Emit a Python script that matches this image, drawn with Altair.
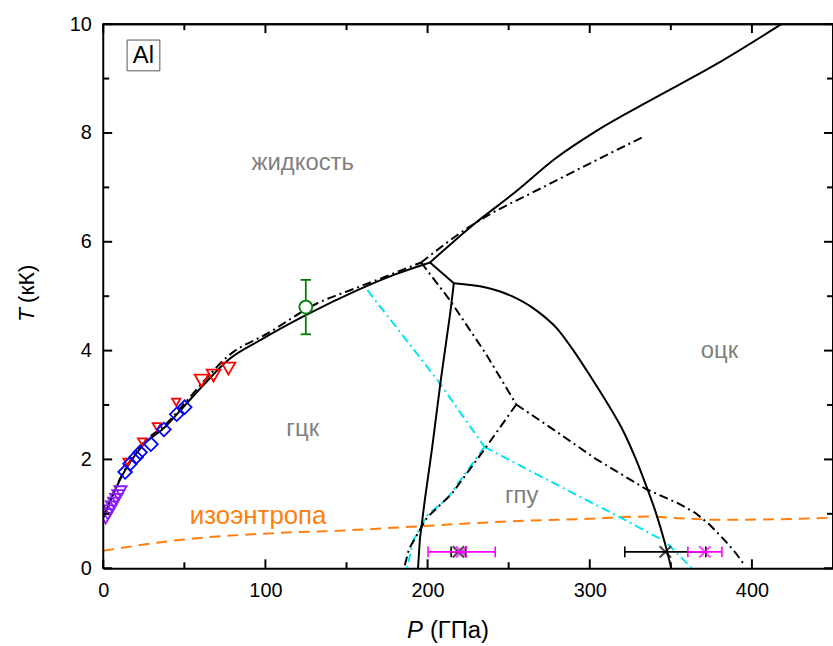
import altair as alt
import pandas as pd

W = 735            # plot width in px (0..450 GPa); the right edge runs past the window like the reference
H = 558            # group height in px; T = 10 kK sits 10 px below the group top
PMAX, TMAX = 450, 10
TTOP = 10.1825     # scale top so that 1 kK = 54.8 px
FONT = "Liberation Sans"

# ---------------- data ----------------
# solid black phase boundaries (model 1)
melt_fcc_P = [0, 11.6, 23.9, 38.6, 50.8, 63.1, 77.2, 97.4, 124.9, 156.8, 180, 201.5]
melt_fcc_T = [0.93, 1.70, 2.24, 2.61, 3.01, 3.41, 3.83, 4.20, 4.65, 5.11, 5.40, 5.62]
melt_bcc_P = [201.5, 226, 254.7, 279.2, 303.7, 336.2, 377.2, 418.2]
melt_bcc_T = [5.62, 6.26, 6.93, 7.54, 8.03, 8.58, 9.25, 10.0]
trip_P = [201.5, 216.2]
trip_T = [5.62, 5.24]
fcc_hcp_P = [216.2, 214.0, 208.2, 202.7, 198.4, 195.3, 194.1]
fcc_hcp_T = [5.24, 4.70, 3.47, 2.19, 1.28, 0.55, 0.0]
hcp_bcc_P = [216.2, 236.0, 252.0, 267.0, 280.0, 290.0, 301.0, 311.5, 321.0, 328.5, 335.0, 341.0, 346.0, 350.3]
hcp_bcc_T = [5.24, 5.16, 5.00, 4.74, 4.40, 4.00, 3.50, 3.00, 2.50, 2.00, 1.50, 1.00, 0.50, 0.0]

# black dash-dot boundaries (model 2)
dd_melt_P = [0, 12, 24, 39, 51, 63, 77, 101.6, 132, 155, 180, 196]
dd_melt_T = [0.95, 1.74, 2.28, 2.66, 3.06, 3.47, 3.90, 4.32, 4.87, 5.14, 5.43, 5.62]
dd_liq_P = [196, 226, 275, 332.5]
dd_liq_T = [5.62, 6.28, 7.06, 7.92]
dd_fb_P = [196, 213.7, 236.4, 254.7]
dd_fb_T = [5.62, 4.93, 3.92, 3.01]
dd_hb_P = [254.7, 280, 303.7, 334.4, 354, 365, 374, 383, 390, 395.6]
dd_hb_T = [3.01, 2.50, 2.01, 1.46, 1.20, 1.02, 0.80, 0.52, 0.28, 0.05]
dd_fh_P = [254.7, 236.4, 215, 199.6, 188.6, 185.5]
dd_fh_T = [3.01, 2.24, 1.37, 0.93, 0.36, 0.0]

# cyan dash-dot boundaries (model 3)
cy_a_P = [162.9, 205.8, 235.1]
cy_a_T = [5.11, 3.47, 2.23]
cy_b_P = [235.1, 267.0, 317.8, 346.6, 363.0]
cy_b_T = [2.23, 1.73, 0.95, 0.49, 0.0]
cy_c_P = [235.1, 212.0, 199.6, 191.0, 187.4]
cy_c_T = [2.23, 1.28, 0.97, 0.50, 0.0]

# isentrope (orange dashed)
isen_P = [0, 50, 102, 153, 194, 250, 300, 335, 355, 380, 414, 450]
isen_T = [0.32, 0.53, 0.64, 0.70, 0.77, 0.86, 0.91, 0.95, 0.92, 0.89, 0.90, 0.93]

# experimental points
purple_P = [1.5, 2.8, 4.1, 5.4, 6.7, 8.0, 9.3, 10.6]
purple_T = [0.92, 0.99, 1.06, 1.13, 1.20, 1.27, 1.34, 1.41]
blue_P = [13.5, 16.5, 20.2, 22.7, 29.4, 37.4, 45.3, 50.2]
blue_T = [1.77, 1.92, 2.04, 2.13, 2.28, 2.55, 2.83, 2.96]
red_big_P = [60.6, 68.0, 77.2]
red_big_T = [3.45, 3.54, 3.67]
red_small_P = [15.0, 24.0, 33.0, 45.0]
red_small_T = [1.95, 2.32, 2.60, 3.05]
green_P = [124.9]
green_T = [4.8]
green_err = [0.5]
black_x_P = [219.0, 346.6]
black_x_T = [0.3, 0.3]
black_x_err = [4.5, 25.0]
mag_x_P = [221.0, 371.0]
mag_x_T = [0.3, 0.3]
mag_x_err = [20.7, 10.5]

# axis ticks
x_major = [0, 100, 200, 300, 400]
x_minor = [50, 150, 250, 350, 450]
y_major = [0, 2, 4, 6, 8, 10]
y_minor = [1, 3, 5, 7, 9]

# region labels
lab_text = ["жидкость", "гцк", "гпу", "оцк"]
lab_P = [123, 123, 258, 380]
lab_T = [7.45, 2.55, 1.33, 4.0]

# ---------------- helpers ----------------
xs = alt.Scale(domain=[0, PMAX], nice=False, zero=False)
ys = alt.Scale(domain=[0, TTOP], nice=False, zero=False)
xax = alt.Axis(values=x_major, tickSize=0, labelFontSize=20, labelFont=FONT, labelColor="black",
               domainColor="black", domainWidth=2, grid=False, labelPadding=12, title=None,
               labelFlush=False)
yax = alt.Axis(values=y_major, tickSize=0, labelFontSize=20, labelFont=FONT, labelColor="black",
               domain=False, grid=False, labelPadding=12, title=None, labelFlush=False)
X = alt.X("P:Q", scale=xs, axis=xax)
Y = alt.Y("T:Q", scale=ys, axis=yax)
YTOP = H - TMAX * H / TTOP   # pixel row of T = 10 inside the group


def segs(pairs):
    frames = []
    for k, (p, t) in enumerate(pairs):
        frames.append(pd.DataFrame({"P": p, "T": t, "seg": k, "i": range(len(p))}))
    return pd.concat(frames, ignore_index=True)


def lines(pairs, color, dash=None, width=2, interp="linear", clip=True):
    kw = dict(color=color, strokeWidth=width, clip=clip, interpolate=interp)
    if dash:
        kw["strokeDash"] = dash
    return alt.Chart(segs(pairs)).mark_line(**kw).encode(
        x=X, y=Y, detail="seg:N", order="i:Q")


DD = [9, 4, 2, 4]
solid_smooth = lines([(melt_fcc_P, melt_fcc_T), (melt_bcc_P, melt_bcc_T), (hcp_bcc_P, hcp_bcc_T)],
                     "black", interp="monotone")
solid_lin = lines([(trip_P, trip_T), (fcc_hcp_P, fcc_hcp_T)], "black")
dashdot_smooth = lines([(dd_melt_P, dd_melt_T), (dd_liq_P, dd_liq_T)],
                       "black", DD, interp="monotone")
dashdot_lin = lines([(dd_fb_P, dd_fb_T), (dd_hb_P, dd_hb_T), (dd_fh_P, dd_fh_T)], "black", DD)
cyan = lines([(cy_a_P, cy_a_T), (cy_b_P, cy_b_T), (cy_c_P, cy_c_T)], "#00e5ee", DD)
isen = lines([(isen_P, isen_T)], "#ff7f0e", [11, 7], interp="monotone")

# top frame as a plain line through the scales (P = 0..450 at T = 10)
top_line = lines([([0, PMAX], [TMAX, TMAX])], "black", width=2, clip=False)


def pts(P, T, shape, color, size, sw=1.8):
    return alt.Chart(pd.DataFrame({"P": P, "T": T})).mark_point(
        shape=shape, color=color, size=size, strokeWidth=sw, filled=False, clip=True, opacity=1
    ).encode(x=X, y=Y)


purple = pts(purple_P, purple_T, "triangle-down", "#8c1aff", 150, 1.8)
red_small = pts(red_small_P, red_small_T, "triangle-down", "#ff0000", 70, 1.8)
blue = pts(blue_P, blue_T, "diamond", "#0000ff", 190, 1.8)
red_big = pts(red_big_P, red_big_T, "triangle-down", "#ff0000", 190, 1.8)

XSHAPE = "M-1,-1L1,1M-1,1L1,-1"


def xerr(P, T, err, color, cap=0.1):
    df = pd.DataFrame({"P": P, "T": T, "e": err})
    df["lo"] = df["P"] - df["e"]
    df["hi"] = df["P"] + df["e"]
    df["t0"] = df["T"] - cap
    df["t1"] = df["T"] + cap
    base = alt.Chart(df)
    bar = base.mark_rule(color=color, strokeWidth=1.6).encode(
        x=alt.X("lo:Q", scale=xs, axis=xax), x2="hi:Q", y=Y)
    c1 = base.mark_rule(color=color, strokeWidth=1.6).encode(
        x=alt.X("lo:Q", scale=xs, axis=xax), y=alt.Y("t0:Q", scale=ys, axis=yax), y2="t1:Q")
    c2 = base.mark_rule(color=color, strokeWidth=1.6).encode(
        x=alt.X("hi:Q", scale=xs, axis=xax), y=alt.Y("t0:Q", scale=ys, axis=yax), y2="t1:Q")
    mk = base.mark_point(shape=XSHAPE, color=color, size=130, strokeWidth=2.2, filled=False).encode(
        x=X, y=Y)
    return bar + c1 + c2 + mk


blackx = xerr(black_x_P, black_x_T, black_x_err, "black")
magx = xerr(mag_x_P, mag_x_T, mag_x_err, "#ff00ff")

gdf = pd.DataFrame({"P": green_P, "T": green_T, "e": green_err})
gdf["lo"] = gdf["T"] - gdf["e"]
gdf["hi"] = gdf["T"] + gdf["e"]
gdf["p0"] = gdf["P"] - 3.2
gdf["p1"] = gdf["P"] + 3.2
gb = alt.Chart(gdf)
green = (
    gb.mark_rule(color="#008000", strokeWidth=1.8).encode(x=X, y=alt.Y("lo:Q", scale=ys, axis=yax), y2="hi:Q")
    + gb.mark_rule(color="#008000", strokeWidth=1.8).encode(x=alt.X("p0:Q", scale=xs, axis=xax), x2="p1:Q",
                                                            y=alt.Y("lo:Q", scale=ys, axis=yax))
    + gb.mark_rule(color="#008000", strokeWidth=1.8).encode(x=alt.X("p0:Q", scale=xs, axis=xax), x2="p1:Q",
                                                            y=alt.Y("hi:Q", scale=ys, axis=yax))
    + gb.mark_point(shape="circle", color="#008000", size=170, strokeWidth=1.8, filled=True,
                    fill="white", stroke="#008000", opacity=1).encode(x=X, y=Y)
)

# frame (left, top and right) and inward ticks
ann = pd.DataFrame({"a": [0]})
R = dict(color="black", strokeWidth=2)
frame = (
    alt.Chart(ann).mark_rule(**R).encode(x=alt.value(0), x2=alt.value(W), y=alt.value(YTOP))
    + alt.Chart(ann).mark_rule(**R).encode(x=alt.value(0), y=alt.value(YTOP - 1), y2=alt.value(H + 1))
    + alt.Chart(ann).mark_rule(**R).encode(x=alt.value(W), y=alt.value(YTOP), y2=alt.value(H))
)
xmaj = alt.Chart(pd.DataFrame({"P": x_major}))
xmin = alt.Chart(pd.DataFrame({"P": x_minor}))
ymaj = alt.Chart(pd.DataFrame({"T": y_major}))
ymin = alt.Chart(pd.DataFrame({"T": y_minor}))
ticks = (
    xmaj.mark_rule(**R).encode(x=X, y=alt.value(H), y2=alt.value(H - 9))
    + xmin.mark_rule(**R).encode(x=X, y=alt.value(H), y2=alt.value(H - 6))
    + xmaj.mark_rule(**R).encode(x=X, y=alt.value(YTOP), y2=alt.value(YTOP + 9))
    + xmin.mark_rule(**R).encode(x=X, y=alt.value(YTOP), y2=alt.value(YTOP + 6))
    + ymaj.mark_rule(**R).encode(y=Y, x=alt.value(0.5), x2=alt.value(9))
    + ymin.mark_rule(**R).encode(y=Y, x=alt.value(0.5), x2=alt.value(6))
    + ymaj.mark_rule(**R).encode(y=Y, x=alt.value(W), x2=alt.value(W - 9))
    + ymin.mark_rule(**R).encode(y=Y, x=alt.value(W), x2=alt.value(W - 6))
)

# region labels
labs = alt.Chart(pd.DataFrame({"P": lab_P, "T": lab_T, "txt": lab_text})).mark_text(
    fontSize=24, font=FONT, color="#808080", align="center", baseline="middle"
).encode(x=X, y=Y, text="txt:N")
isen_lab = alt.Chart(pd.DataFrame({"P": [95.5], "T": [0.95], "txt": ["изоэнтропа"]})).mark_text(
    fontSize=26, font=FONT, color="#ff7f0e", align="center", baseline="middle"
).encode(x=X, y=Y, text="txt:N")

# "Al" box and axis titles (positions in pixels relative to the group)
OY = 10  # group starts 10 px above the frame
al_box = alt.Chart(ann).mark_rect(fill="white", stroke="#555555", strokeWidth=1).encode(
    x=alt.value(24), x2=alt.value(57), y=alt.value(16 + OY), y2=alt.value(47 + OY))
al_txt = alt.Chart(ann).mark_text(text="Al", fontSize=24, font=FONT, color="black",
                                  align="center", baseline="middle").encode(
    x=alt.value(40.5), y=alt.value(32 + OY))
xt_p = alt.Chart(ann).mark_text(text="P", fontSize=24, font=FONT, fontStyle="italic", color="black",
                                align="right", baseline="middle").encode(x=alt.value(322), y=alt.value(611 + OY))
xt_u = alt.Chart(ann).mark_text(text="(ГПа)", fontSize=24, font=FONT, color="black",
                                align="left", baseline="middle").encode(x=alt.value(329), y=alt.value(611 + OY))
yt_t = alt.Chart(ann).mark_text(text="T", fontSize=23, font=FONT, fontStyle="italic", color="black",
                                angle=270, align="left", baseline="middle").encode(x=alt.value(-77), y=alt.value(300 + OY))
yt_u = alt.Chart(ann).mark_text(text="(кК)", fontSize=23, font=FONT, color="black",
                                angle=270, align="left", baseline="middle").encode(x=alt.value(-77), y=alt.value(281 + OY))

chart = alt.layer(
    isen, cyan, dashdot_smooth, dashdot_lin, solid_smooth, solid_lin,
    purple, red_small, blue, red_big, green, blackx, magx,
    labs, isen_lab, al_box, al_txt, frame, top_line, ticks, xt_p, xt_u, yt_t, yt_u,
).properties(
    width=W, height=H,
    autosize=alt.AutoSizeParams(type="none"),
    padding={"left": 104, "top": 12, "right": 0, "bottom": 76},
    background="white",
).configure_view(stroke=None).resolve_scale(x="shared", y="shared")

chart.save("out.html", embed_options={"renderer": "svg", "actions": False})
